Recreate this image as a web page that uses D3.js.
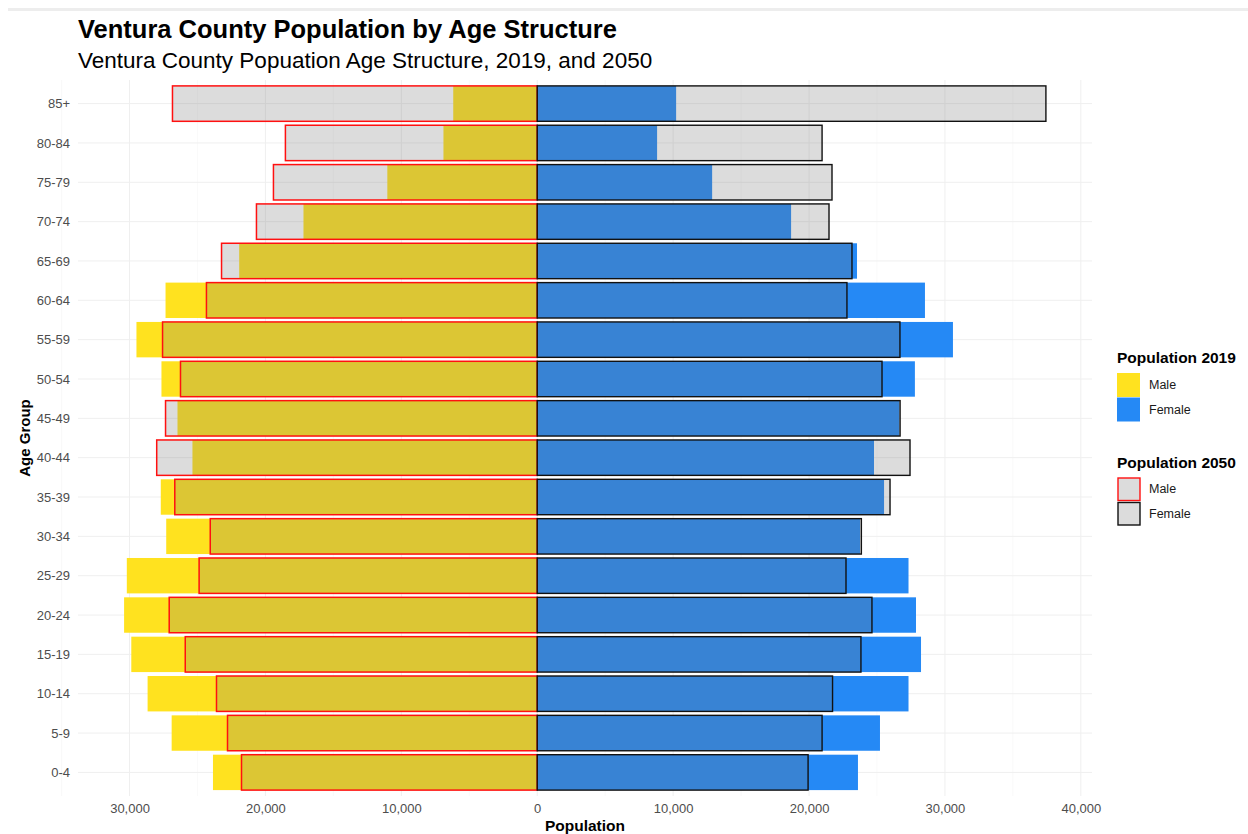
<!DOCTYPE html>
<html>
<head>
<meta charset="utf-8">
<script src="https://cdn.jsdelivr.net/npm/d3@7"></script>
<style>
  body { margin: 0; background: #fff; }
  svg { display: block; font-family: "Liberation Sans", Arial, sans-serif; }
</style>
</head>
<body>
<svg id="chart" width="1248" height="834"></svg>
<script>
// ---- Data ----
const ageGroups = ["0-4","5-9","10-14","15-19","20-24","25-29","30-34","35-39","40-44","45-49","50-54","55-59","60-64","65-69","70-74","75-79","80-84","85+"];
const male2019   = [23860, 26900, 28670, 29870, 30400, 30200, 27300, 27700, 25370, 26470, 27650, 29490, 27350, 21930, 17200, 11030, 6900, 6180];
const female2019 = [23600, 25220, 27320, 28240, 27870, 27320, 23750, 25520, 24780, 26650, 27790, 30590, 28530, 23530, 18680, 12870, 8820, 10220];
const male2050   = [21760, 22790, 23600, 25900, 27080, 24880, 24060, 26670, 28000, 27350, 26250, 27570, 24340, 23230, 20660, 19410, 18530, 26840];
const female2050 = [19930, 20960, 21730, 23820, 24630, 22720, 23850, 25960, 27430, 26700, 25370, 26690, 22790, 23160, 21470, 21690, 20960, 37430];
const xTicks = [-30000, -20000, -10000, 0, 10000, 20000, 30000, 40000];
const xMinorTicks = [-35000, -25000, -15000, -5000, 5000, 15000, 25000, 35000];

const title = "Ventura County Population by Age Structure";
const subtitle = "Ventura County Popuation Age Structure, 2019, and 2050";

const colMale = "#FFE21F", colFemale = "#2589F5";
const overlayFill = "rgb(117,117,117)", overlayOpacity = 0.25;

const svg = d3.select("#chart");

// top faint rule
svg.append("rect").attr("x", 8).attr("y", 8).attr("width", 1240).attr("height", 3).attr("fill", "#ededed");

// scales
const lo = -d3.max(male2019.concat(male2050));
const hi = d3.max(female2019.concat(female2050));
const pad = (hi - lo) * 0.05;
const panel = { left: 78, right: 1092, top: 80, bottom: 796 };
const x = d3.scaleLinear().domain([lo - pad, hi + pad]).range([panel.left, panel.right]);
const y = d3.scaleLinear().domain([-0.6, ageGroups.length - 0.4]).range([panel.bottom, panel.top]);
const bandH = (y(0) - y(1)) * 0.9;

// grid
const g = svg.append("g");
g.selectAll(".minor").data(xMinorTicks).join("line")
  .attr("x1", d => x(d)).attr("x2", d => x(d)).attr("y1", panel.top).attr("y2", panel.bottom)
  .attr("stroke", "#f5f5f5").attr("stroke-width", 0.6);
g.selectAll(".majorx").data(xTicks).join("line")
  .attr("x1", d => x(d)).attr("x2", d => x(d)).attr("y1", panel.top).attr("y2", panel.bottom)
  .attr("stroke", "#efefef").attr("stroke-width", 1);
g.selectAll(".majory").data(ageGroups).join("line")
  .attr("x1", panel.left).attr("x2", panel.right).attr("y1", (d, i) => y(i)).attr("y2", (d, i) => y(i))
  .attr("stroke", "#efefef").attr("stroke-width", 1);

// 2019 bars
const bars = svg.append("g");
ageGroups.forEach((a, i) => {
  bars.append("rect").attr("x", x(-male2019[i])).attr("width", x(0) - x(-male2019[i]))
    .attr("y", y(i) - bandH / 2).attr("height", bandH).attr("fill", colMale);
  bars.append("rect").attr("x", x(0)).attr("width", x(female2019[i]) - x(0))
    .attr("y", y(i) - bandH / 2).attr("height", bandH).attr("fill", colFemale);
});
// 2050 bars overlay
ageGroups.forEach((a, i) => {
  bars.append("rect").attr("x", x(-male2050[i])).attr("width", x(0) - x(-male2050[i]))
    .attr("y", y(i) - bandH / 2).attr("height", bandH)
    .attr("fill", overlayFill).attr("fill-opacity", overlayOpacity)
    .attr("stroke", "#ff1010").attr("stroke-width", 1.5);
  bars.append("rect").attr("x", x(0)).attr("width", x(female2050[i]) - x(0))
    .attr("y", y(i) - bandH / 2).attr("height", bandH)
    .attr("fill", overlayFill).attr("fill-opacity", overlayOpacity)
    .attr("stroke", "#111").attr("stroke-width", 1.4);
});

// axes
const xAxis = svg.append("g").attr("transform", `translate(0,${panel.bottom + 3})`)
  .call(d3.axisBottom(x).tickValues(xTicks).tickSize(0).tickPadding(5).tickFormat(d => d3.format(",")(Math.abs(d))));
xAxis.select(".domain").remove();
xAxis.selectAll("text").attr("fill", "#4d4d4d").style("font-size", "13px").style("font-family", "Liberation Sans, Arial, sans-serif");

const yAxis = svg.append("g").attr("transform", `translate(${panel.left - 6},0)`)
  .call(d3.axisLeft(d3.scalePoint().domain(ageGroups).range([y(0), y(ageGroups.length - 1)])).tickSize(0).tickPadding(2));
yAxis.select(".domain").remove();
yAxis.selectAll("text").attr("fill", "#4d4d4d").style("font-size", "13px").style("font-family", "Liberation Sans, Arial, sans-serif");

// axis titles
svg.append("text").attr("x", (panel.left + panel.right) / 2).attr("y", 831).attr("text-anchor", "middle")
  .style("font-size", "15.5px").style("font-weight", "bold").text("Population");
svg.append("text").attr("transform", `translate(30,${(panel.top + panel.bottom) / 2}) rotate(-90)`)
  .attr("text-anchor", "middle").style("font-size", "15px").style("font-weight", "bold").text("Age Group");

// titles
svg.append("text").attr("x", 78).attr("y", 38).style("font-size", "25.5px").style("font-weight", "bold").attr("fill", "#000").text(title);
svg.append("text").attr("x", 78).attr("y", 68).style("font-size", "22.5px").attr("fill", "#000").text(subtitle);

// legend
const lg = svg.append("g");
const legItems2019 = [{ label: "Male", fill: colMale }, { label: "Female", fill: colFemale }];
const legItems2050 = [{ label: "Male", stroke: "#ff1010" }, { label: "Female", stroke: "#111" }];
lg.append("text").attr("x", 1117).attr("y", 363).style("font-size", "15.5px").style("font-weight", "bold").text("Population 2019");
legItems2019.forEach((d, i) => {
  lg.append("rect").attr("x", 1117).attr("y", 373 + i * 24.5).attr("width", 23).attr("height", 24).attr("fill", d.fill);
  lg.append("text").attr("x", 1149).attr("y", 385 + i * 24.5).attr("dy", "0.35em").style("font-size", "12.5px").attr("fill", "#1a1a1a").text(d.label);
});
lg.append("text").attr("x", 1117).attr("y", 468).style("font-size", "15.5px").style("font-weight", "bold").text("Population 2050");
legItems2050.forEach((d, i) => {
  lg.append("rect").attr("x", 1118).attr("y", 478 + i * 24.5).attr("width", 22).attr("height", 22.5)
    .attr("fill", overlayFill).attr("fill-opacity", overlayOpacity).attr("stroke", d.stroke).attr("stroke-width", 1.4);
  lg.append("text").attr("x", 1149).attr("y", 489 + i * 24.5).attr("dy", "0.35em").style("font-size", "12.5px").attr("fill", "#1a1a1a").text(d.label);
});
</script>
</body>
</html>
